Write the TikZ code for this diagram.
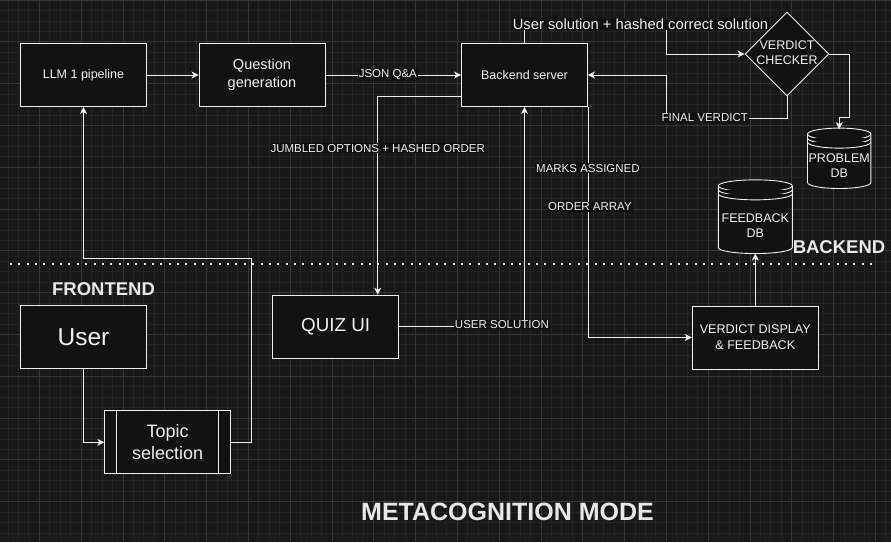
\documentclass[tikz,border=0pt]{standalone}
\usepackage{fontspec}
\setmainfont{Liberation Sans}
\usepackage{xcolor}
\usepackage{tikz}
\usetikzlibrary{arrows.meta,backgrounds,positioning,shapes.geometric}

\definecolor{canvas}{HTML}{181818}
\definecolor{gridminor}{HTML}{232323}
\definecolor{gridmajor}{HTML}{363636}
\definecolor{boxfill}{HTML}{121212}
\definecolor{ink}{HTML}{F0F0F0}
\definecolor{tagink}{HTML}{E8E8E8}

\newcommand\fs[2]{\fontsize{#1}{#2}\selectfont}
% datastore outline round a node (name, half width, gap above the node)
\newcommand\dbshape[3]{%
  \draw[dbline] ([xshift=-#2,yshift=#3]#1.north) -- ([xshift=-#2,yshift=6pt]#1.south)
    arc[start angle=180,end angle=360,x radius=#2,y radius=6pt]
    -- ([xshift=#2,yshift=#3]#1.north)
    arc[start angle=0,end angle=180,x radius=#2,y radius=6pt] -- cycle;
  \draw[dbline] ([xshift=-#2,yshift=#3]#1.north) arc[start angle=180,end angle=360,x radius=#2,y radius=6pt];
  \draw[dbline] ([xshift=-#2,yshift={#3-4pt}]#1.north) arc[start angle=180,end angle=360,x radius=#2,y radius=6pt];
  \draw[dbline] ([xshift=-#2,yshift={#3-8pt}]#1.north) arc[start angle=180,end angle=360,x radius=#2,y radius=6pt];}

\tikzset{every node/.append style={text=ink},
  blk/.style={draw=ink,fill=boxfill,line width=0.9pt,minimum width=126pt,minimum height=63pt,
    inner sep=0pt,align=center,font=\fs{12.5}{15}},
  dbnode/.style={inner sep=0pt,align=center,font=\fs{12.5}{15}},
  dbline/.style={draw=ink,fill=boxfill,line width=0.9pt},
  arr/.style={draw=ink,line width=0.9pt,-{Stealth[length=7pt,width=7pt,inset=2pt]}},
  elabel/.style={fill=boxfill,inner sep=1pt,font=\fs{11.5}{13}},
  tag/.style={text=tagink,font=\bfseries\fs{18.5}{22}}}

\begin{document}
\begin{tikzpicture}[x=1pt,y=-1pt]
  \useasboundingbox (0,0) rectangle (891,542);
  % canvas and grid
  \begin{scope}[on background layer]
    \fill[canvas] (0,0) rectangle (891,542);
    \foreach \i in {0,...,86}
      \draw[gridminor,line width=0.8pt] ({-2.5+10.45*\i},0) -- ({-2.5+10.45*\i},542);
    \foreach \j in {0,...,52}
      \draw[gridminor,line width=0.8pt] (0,{10.45*\j}) -- (891,{10.45*\j});
    \foreach \i in {0,...,22}
      \draw[gridmajor,line width=0.8pt] ({-2.5+41.8*\i},0) -- ({-2.5+41.8*\i},542);
    \foreach \j in {0,...,13}
      \draw[gridmajor,line width=0.8pt] (0,{41.8*\j}) -- (891,{41.8*\j});
  \end{scope}

  % split between backend and frontend
  \draw[tagink,line width=2pt,dash pattern=on 2pt off 6.35pt] (10,263.5) -- (872,263.5);

  % backend
  \node[blk] (llm) at (83.5,75) {LLM 1 pipeline};
  \node[blk,font=\fs{14.5}{18}] (qgen) at (262,75) {Question\\generation};
  \node[blk] (backend) at (524.5,75) {Backend server};
  \node[diamond,draw=ink,fill=boxfill,line width=0.9pt,minimum width=84pt,minimum height=84pt,inner sep=0pt,
    label={[font=\fs{12.5}{15},align=center,yshift=1.5pt]center:VERDICT\\CHECKER}] (checker) at (787,54) {};
  \node[dbnode,minimum width=63.4pt,minimum height=45pt] (pdb) at (839.2,165.8) {PROBLEM\\DB};
  \node[dbnode,minimum width=74pt,minimum height=55.3pt] (fdb) at (755.3,225.7) {FEEDBACK\\DB};
  \begin{scope}[on background layer]
    \dbshape{pdb}{31.7pt}{9pt}
    \dbshape{fdb}{37pt}{12pt}
  \end{scope}
  \node[tag] (backtag) at (839,247) {BACKEND};

  % frontend
  \node[tag] (fronttag) at (103.5,289) {FRONTEND};
  \node[blk,font=\fs{24.5}{28}] (user) at (83.5,337.3) {User};
  \node[blk,font=\fs{18}{22.5}] (topic) at (167.7,442.3) {Topic\\selection};
  \draw[ink,line width=0.9pt] ([xshift=12.6pt]topic.north west) -- ([xshift=12.6pt]topic.south west)
        ([xshift=-12.6pt]topic.north east) -- ([xshift=-12.6pt]topic.south east);
  \node[blk,font=\fs{18.8}{22}] (quiz) at (335.7,326.7) {QUIZ UI};
  \node[blk,font=\fs{12.6}{16}] (vdisp) at (755.3,337.5) {VERDICT DISPLAY\\\& FEEDBACK};

  \node[text=tagink,font=\bfseries\fs{25}{30}] (mode) at (507.5,511.5) {METACOGNITION MODE};

  % connectors
  \draw[arr] (llm) -- (qgen);
  \draw[arr] (qgen) -- node[elabel,pos=0.46]{JSON Q\&A} (backend);
  \draw[arr] ([yshift=-21.7pt]backend.west) -| node[elabel,pos=0.63]{JUMBLED OPTIONS + HASHED ORDER} ([xshift=42pt]quiz.north);
  \draw[arr] (quiz.east) -| node[elabel,pos=0.41,yshift=2pt]{USER SOLUTION} (backend.south);
  \draw[arr] (backend.south east) |- node[elabel,pos=0.133]{MARKS ASSIGNED} node[elabel,pos=0.217,xshift=2pt]{ORDER ARRAY} (vdisp.west);
  \draw[arr] (vdisp) -- (fdb.south);
  \draw[arr] (backend.north) -- (backend.north |- 0,24) -- node[elabel,pos=0.82,font=\fs{14.75}{17}]{User solution + hashed correct solution} (666,24) |- (checker.west);
  \draw[arr] (checker.east) -| (849.3,117) -| ([yshift=14pt]pdb.north);
  \draw[arr] (checker.south) |- node[elabel,pos=0.84]{FINAL VERDICT} (666,118) |- (backend.east);
  \draw[arr] (user.south) |- (topic.west);
  \draw[arr] (topic.east) -| (251,258.7) -| (llm.south);
\end{tikzpicture}
\end{document}
